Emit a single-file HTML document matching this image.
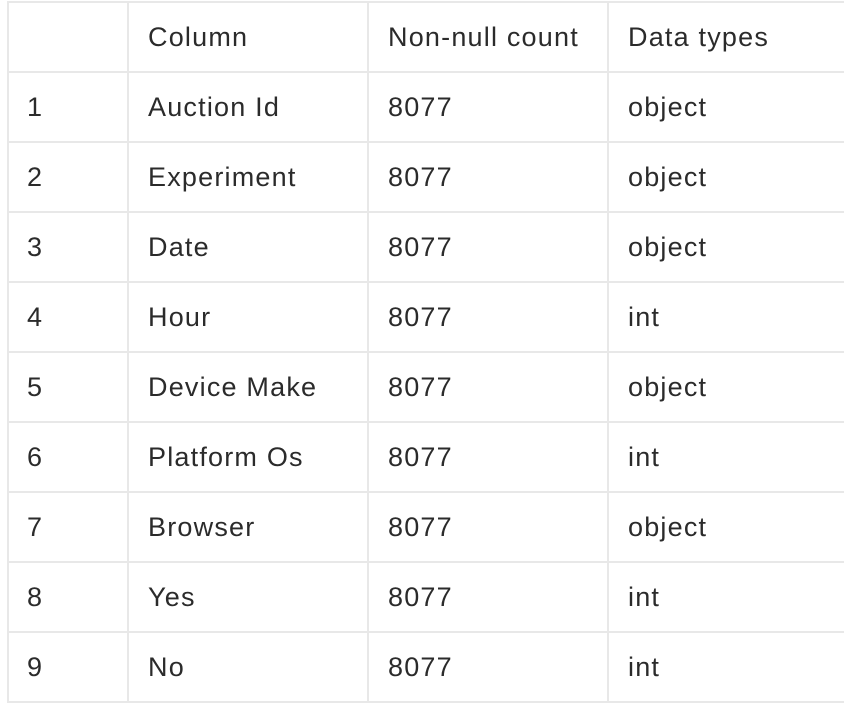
<!DOCTYPE html>
<html><head><style>
body{margin:0;width:844px;height:707px;background:#fff;overflow:hidden;position:relative;font-family:"Liberation Sans",sans-serif;color:#2b2b2b;font-size:27px;letter-spacing:1.2px}
.h{position:absolute;left:7px;width:900px;height:2px;background:#e8e8e8}
.v{position:absolute;top:1px;height:701px;width:2px;background:#e8e8e8}
.t{position:absolute;line-height:30px;white-space:nowrap}
</style></head><body>
<div class="v" style="left:7px"></div>
<div class="v" style="left:127px"></div>
<div class="v" style="left:367px"></div>
<div class="v" style="left:607px"></div>
<script>
var d=[["","Column","Non-null count","Data types"],["1","Auction Id","8077","object"],["2","Experiment","8077","object"],["3","Date","8077","object"],["4","Hour","8077","int"],["5","Device Make","8077","object"],["6","Platform Os","8077","int"],["7","Browser","8077","object"],["8","Yes","8077","int"],["9","No","8077","int"]];
var xs=[27,148,388,628],h="";
for(var i=0;i<=10;i++)h+='<div class="h" style="top:'+(1+i*70)+'px"></div>';
d.forEach(function(r,i){r.forEach(function(c,j){h+='<div class="t" style="left:'+xs[j]+'px;top:'+(22+i*70)+'px">'+c+'</div>';});});
document.body.insertAdjacentHTML('beforeend',h);
</script>
</body></html>
